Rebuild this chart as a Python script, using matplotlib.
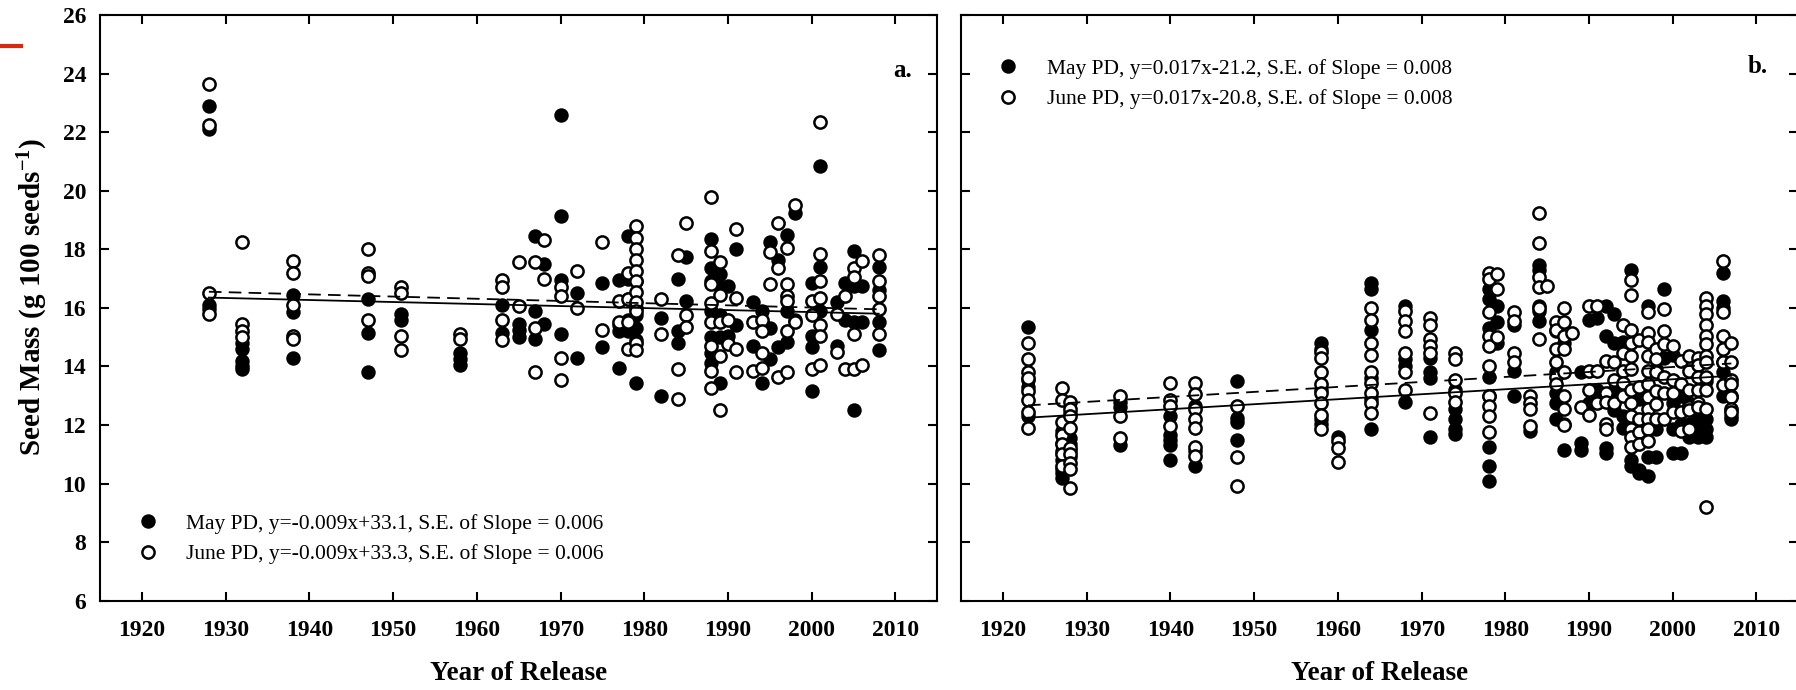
import numpy as np
import matplotlib
matplotlib.use('Agg')
import matplotlib.pyplot as plt
from matplotlib.lines import Line2D

plt.rcParams['font.family'] = ['Liberation Serif', 'DejaVu Serif']
plt.rcParams['font.weight'] = 'bold'
plt.rcParams['axes.labelweight'] = 'bold'
plt.rcParams['mathtext.fontset'] = 'custom'
plt.rcParams['mathtext.rm'] = 'Liberation Serif:bold'
plt.rcParams['mathtext.default'] = 'rm'

x_ticks = [1920, 1930, 1940, 1950, 1960, 1970, 1980, 1990, 2000, 2010]
y_ticks = [6, 8, 10, 12, 14, 16, 18, 20, 22, 24, 26]

# panel a: seed mass per release year (May PD filled, June PD open)
a_years = [1928, 1932, 1938, 1947, 1951, 1958, 1963, 1965, 1967, 1968, 1970, 1972,
           1975, 1977, 1978, 1979, 1982, 1984, 1985, 1988, 1989, 1990, 1991, 1993,
           1994, 1995, 1996, 1997, 1998, 2000, 2001, 2003, 2004, 2005, 2006, 2008]
a_may = [
    [22.9, 22.1, 16.1, 15.95], [14.8, 14.6, 14.2, 14.0, 13.9], [16.45, 15.85, 14.3],
    [16.3, 15.15, 13.8], [15.8, 15.6], [14.45, 14.25, 14.05], [16.1, 15.15],
    [15.45, 15.25, 15.0], [18.45, 15.9, 14.95], [17.5, 15.45], [22.6, 19.15, 16.95, 15.1],
    [16.5, 14.3], [16.85, 14.65], [16.95, 15.4, 15.2, 13.95], [18.45, 17.0, 16.3, 15.6, 15.2],
    [16.9, 16.0, 15.75, 15.3, 14.9, 13.45], [15.65, 13.0], [17.0, 15.2, 14.8], [17.75, 16.25],
    [18.35, 17.35, 16.9, 15.9, 15.0, 14.45, 14.1], [17.15, 16.75, 15.75, 15.0, 13.45],
    [16.75, 15.05], [18.0, 15.4], [16.2, 14.7], [15.9, 13.45], [18.25, 15.3, 14.25],
    [17.65, 14.65], [18.5, 15.9, 14.85], [19.25, 15.6], [16.85, 15.05, 14.65, 13.15],
    [20.85, 17.4, 15.9], [16.2, 14.7], [16.85, 15.6], [17.95, 16.75, 15.5, 12.5],
    [16.75, 15.5], [17.4, 16.6, 15.5, 14.55],
]
a_june = [
    [23.65, 22.25, 16.5, 15.8], [18.25, 15.45, 15.2, 15.0], [17.6, 17.2, 16.1, 15.05, 14.95],
    [18.0, 17.2, 17.1, 15.6], [16.7, 16.5, 15.05, 14.55], [15.1, 14.95], [16.95, 16.7, 15.6, 14.9],
    [17.55, 16.05], [17.55, 15.3, 13.8], [18.3, 17.0], [16.7, 16.4, 14.3, 13.55], [17.25, 16.0],
    [18.25, 15.25], [16.25, 15.5], [17.2, 16.3, 15.5, 14.6],
    [18.8, 18.4, 18.0, 17.65, 17.25, 16.9, 16.55, 16.2, 15.9, 14.8, 14.55], [16.3, 15.1],
    [17.8, 13.9, 12.9], [18.9, 15.75, 15.35], [19.8, 17.95, 16.8, 16.15, 15.5, 14.7, 13.85, 13.25],
    [17.55, 16.45, 15.5, 14.35, 12.5], [15.6, 14.75], [18.7, 16.35, 14.6, 13.8], [15.5, 13.85],
    [15.6, 15.2, 14.45, 13.95], [17.9, 16.8], [18.9, 17.35, 13.65],
    [18.05, 16.8, 16.4, 16.25, 15.2, 13.8], [19.5, 15.5], [16.25, 15.75, 13.9],
    [22.35, 17.85, 16.9, 16.35, 15.4, 15.05, 14.05], [15.8, 14.5], [16.4, 13.9],
    [17.35, 17.05, 15.1, 13.9], [17.6, 14.05], [17.8, 16.9, 16.4, 15.95, 15.1],
]
a_fit_years = [1928, 2008]
a_may_fit = [16.35, 15.8]
a_june_fit = [16.55, 15.95]
a_labels = ['May PD, y=-0.009x+33.1, S.E. of Slope = 0.006',
            'June PD, y=-0.009x+33.3, S.E. of Slope = 0.006']

# panel b
b_years = [1923, 1927, 1928, 1934, 1940, 1943, 1948, 1958, 1960, 1964, 1968, 1971, 1974,
           1978, 1979, 1981, 1983, 1984, 1985, 1986, 1987, 1988, 1989, 1990, 1991, 1992,
           1993, 1994, 1995, 1996, 1997, 1998, 1999, 2000, 2001, 2002, 2003, 2004, 2006, 2007]
b_may = [
    [15.35, 13.55, 13.3, 12.3], [11.8, 11.4, 11.1, 10.8, 10.5, 10.35, 10.2],
    [12.4, 11.55, 11.35, 11.1, 10.9], [12.8, 12.6, 11.3], [12.3, 11.65, 11.5, 11.3, 10.8],
    [12.65, 11.1, 10.6], [13.5, 12.25, 12.1, 11.5], [14.8, 14.6, 13.2, 12.2, 12.05], [11.6],
    [16.85, 16.65, 15.25, 13.6, 12.9, 11.85], [16.05, 14.25, 14.0, 12.8],
    [14.3, 13.8, 13.6, 11.6], [13.2, 12.55, 12.2, 11.85, 11.7],
    [16.65, 16.3, 15.3, 13.65, 13.0, 11.25, 10.6, 10.1], [16.05, 15.5, 14.8],
    [15.4, 13.85, 13.0], [11.8], [17.45, 17.3, 16.05, 15.9, 15.55], [],
    [15.2, 13.8, 13.1, 12.75, 12.2], [14.8, 12.05, 11.15], [], [13.8, 11.4, 11.15],
    [15.6, 12.75], [15.65, 13.2, 12.9], [16.05, 15.05, 11.2, 11.05], [15.8, 14.8, 13.2, 12.5],
    [14.85, 12.3, 11.9], [17.3, 10.8, 10.6], [10.45, 10.35, 12.9], [16.05, 10.9, 10.25],
    [11.85, 10.9, 13.9], [16.65, 14.3], [14.4, 12.75, 11.85, 11.05], [13.0, 12.05, 11.05],
    [12.75, 12.05, 11.6], [12.3, 11.6, 11.95], [13.5, 12.2, 11.85, 11.6],
    [17.2, 16.25, 16.0, 14.15, 13.8, 13.0], [12.2, 12.3],
]
b_june = [
    [14.8, 14.25, 13.8, 13.6, 13.15, 12.85, 12.45, 11.9], [13.25, 12.85, 12.1, 11.65, 11.35, 11.0, 10.6],
    [12.8, 12.55, 12.3, 11.9, 11.2, 11.0, 10.7, 10.5, 9.85], [13.0, 12.3, 11.55],
    [13.45, 12.85, 12.65, 11.95], [13.45, 13.05, 12.55, 12.2, 11.9, 11.25, 10.95],
    [12.65, 10.9, 9.9], [14.5, 14.3, 13.8, 13.4, 13.1, 12.75, 12.35, 11.85], [11.45, 11.2, 10.75],
    [16.0, 15.6, 14.8, 14.4, 13.8, 13.45, 13.1, 12.75, 12.4], [15.9, 15.55, 15.2, 14.45, 13.8, 13.2],
    [15.65, 15.4, 14.95, 14.7, 14.45, 12.4], [14.45, 14.25, 13.55, 13.1, 12.8],
    [17.2, 17.0, 15.85, 15.05, 14.7, 14.0, 13.0, 12.65, 12.3, 11.75], [17.15, 16.65, 15.0],
    [15.85, 15.55, 14.45, 14.15], [13.0, 12.75, 12.55, 11.95], [19.25, 18.2, 17.05, 16.7, 16.0, 14.95],
    [16.75], [15.5, 15.25, 14.6, 14.15, 13.65, 13.4], [16.0, 15.5, 15.05, 14.6, 13.8, 13.0, 12.55, 12.0],
    [15.15], [12.6], [16.05, 13.85, 13.2, 12.35], [16.05, 13.85, 12.75],
    [14.2, 13.1, 12.8, 12.05, 11.85], [14.15, 13.55, 12.75], [15.4, 14.45, 13.85, 13.45, 13.0],
    [16.95, 16.45, 15.25, 14.8, 14.35, 13.9, 13.2, 12.75, 12.3, 11.85, 11.6, 11.25],
    [14.9, 13.3, 12.2, 11.75, 11.35],
    [15.85, 15.15, 14.85, 14.35, 13.85, 13.4, 12.95, 12.55, 12.2, 11.85, 11.45],
    [14.6, 14.25, 13.8, 13.15, 12.7, 12.2], [15.95, 15.2, 14.75, 13.65, 13.1, 12.2],
    [14.7, 13.55, 13.1, 12.45], [14.2, 13.4, 12.45, 11.85, 11.8], [14.35, 13.85, 13.2, 12.6, 12.5, 11.85],
    [14.3, 14.05, 13.65, 13.2, 12.75, 12.6],
    [16.35, 16.05, 15.8, 15.4, 15.05, 14.75, 14.35, 14.15, 13.65, 13.2, 12.55, 9.2],
    [17.6, 15.85, 15.05, 14.6, 14.15, 13.35], [14.8, 14.15, 13.55, 13.4, 13.0, 12.95, 12.55, 12.45],
]
b_fit_years = [1923, 2007]
b_may_fit = [12.25, 13.68]
b_june_fit = [12.67, 14.1]
b_labels = ['May PD, y=0.017x-21.2, S.E. of Slope = 0.008',
            'June PD, y=0.017x-20.8, S.E. of Slope = 0.008']


def flat(years, groups):
    xs = np.repeat(years, [len(g) for g in groups])
    ys = np.concatenate([np.asarray(g, dtype=float) for g in groups])
    return xs, ys


def draw_panel(ax, years, may, june, fit_years, may_fit, june_fit, labels, tag,
               leg_loc, leg_anchor, tag_pos):
    mx, my = flat(years, may)
    jx, jy = flat(years, june)
    ax.plot(mx, my, 'o', ls='none', ms=8.8, mfc='black', mec='black', mew=1.6,
            label=labels[0], zorder=2)
    ax.plot(jx, jy, 'o', ls='none', ms=8.8, mfc='white', mec='black', mew=1.8,
            label=labels[1], zorder=3)
    ax.plot(fit_years, may_fit, '-', color='black', lw=1.3, zorder=4)
    ax.plot(fit_years, june_fit, '--', color='black', lw=1.3, dashes=(7, 4), zorder=4)

    ax.set_xlim(1915, 2015)
    ax.set_ylim(6, 26)
    ax.set_xticks(x_ticks)
    ax.set_yticks(y_ticks)
    ax.tick_params(direction='in', top=True, right=True, length=6.5, width=1.5,
                   labelsize=17, pad=10)
    ax.tick_params(axis='x', pad=14)
    for s in ax.spines.values():
        s.set_linewidth(1.5)
    ax.set_xlabel('Year of Release', fontsize=19.5, fontweight='bold', labelpad=14)
    ax.text(tag_pos[0], tag_pos[1], tag, transform=ax.transAxes, fontsize=18,
            fontweight='bold', ha='center', va='center')
    ax.legend(loc=leg_loc, bbox_to_anchor=leg_anchor, frameon=False, numpoints=1,
              borderaxespad=0, borderpad=0, handlelength=1.0, handletextpad=1.3,
              labelspacing=0.48, prop={'size': 15.5, 'weight': 'normal'})


fig = plt.figure(figsize=(17.96, 6.9), dpi=100)
ax_a = fig.add_axes([0.0557, 0.1294, 0.4662, 0.8489])
ax_b = fig.add_axes([0.5351, 0.1294, 0.4662, 0.8489])

draw_panel(ax_a, a_years, a_may, a_june, a_fit_years, a_may_fit, a_june_fit, a_labels,
           'a.', 'lower left', (0.044, 0.062), (0.958, 0.906))
draw_panel(ax_b, b_years, b_may, b_june, b_fit_years, b_may_fit, b_june_fit, b_labels,
           'b.', 'upper left', (0.043, 0.925), (0.951, 0.912))

ax_a.set_ylabel('Seed Mass (g 100 seeds$^{-1}$)', fontsize=21, fontweight='bold')
ax_a.yaxis.label.set_va('center')
ax_a.yaxis.set_label_coords(-0.08, 0.518)
ax_b.tick_params(labelleft=False)

fig.add_artist(Line2D([0, 21 / 1796], [1 - 46 / 690] * 2, color='#d42a10', lw=3))

fig.savefig('out.png', dpi=100)
